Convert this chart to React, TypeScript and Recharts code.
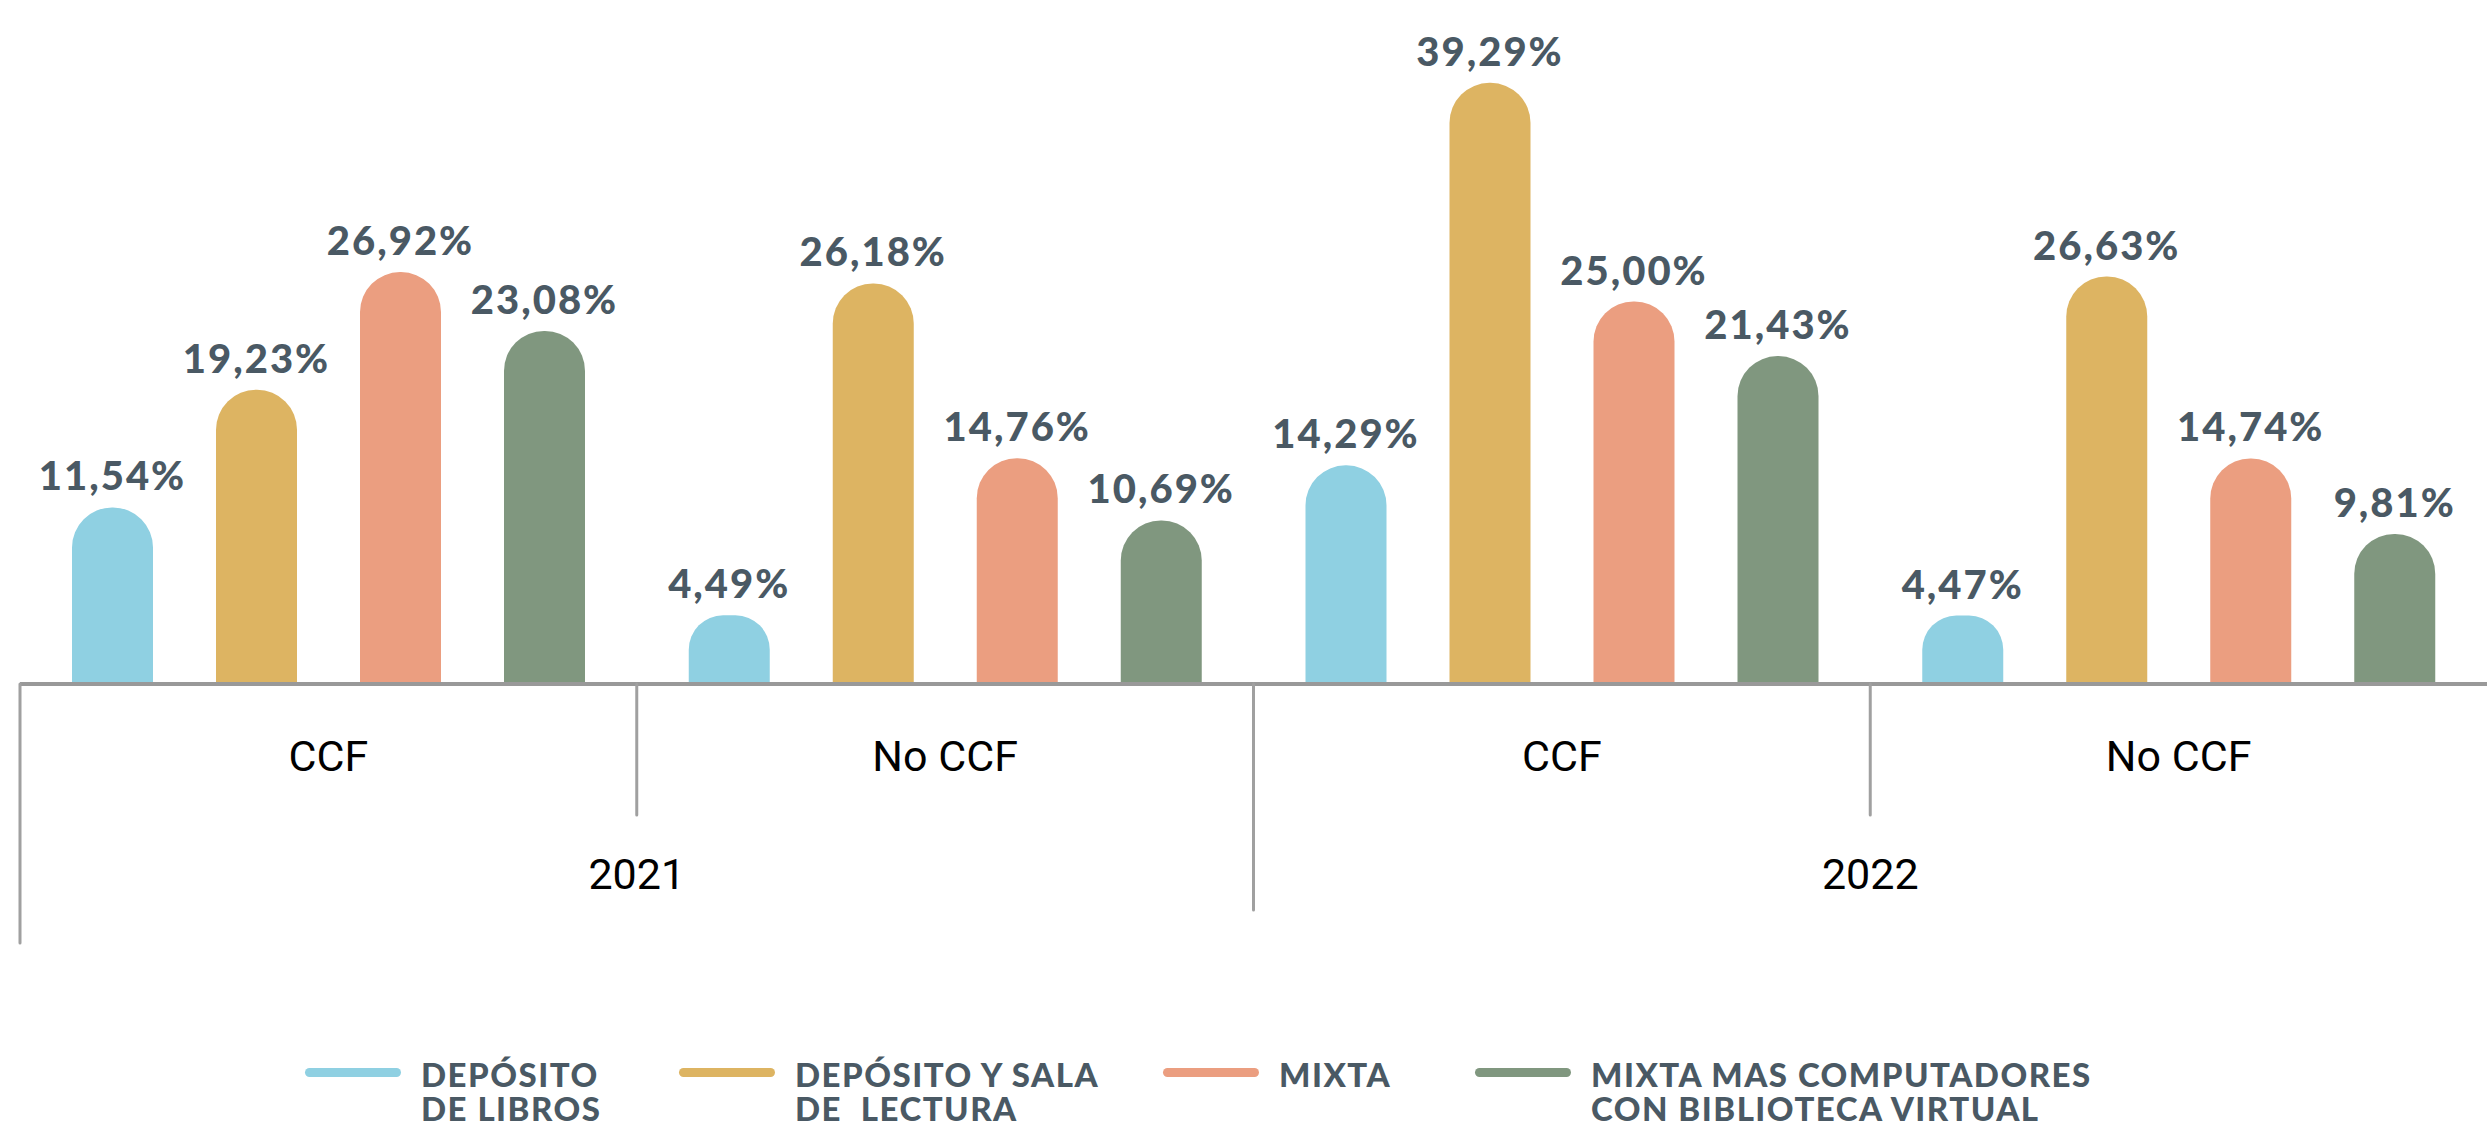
import React from 'react';
import { BarChart, Bar, XAxis, YAxis, Legend, LabelList } from 'recharts';

const grupos = ['CCF', 'No CCF', 'CCF', 'No CCF'];
const anios = ['2021', '2021', '2022', '2022'];
const depositoLibros = [11.54, 4.49, 14.29, 4.47];
const depositoSala = [19.23, 26.18, 39.29, 26.63];
const mixta = [26.92, 14.76, 25.0, 14.74];
const mixtaVirtual = [23.08, 10.69, 21.43, 9.81];

const seriesNames = [
  'DEPÓSITO\nDE LIBROS',
  'DEPÓSITO Y SALA\nDE  LECTURA',
  'MIXTA',
  'MIXTA MAS COMPUTADORES\nCON BIBLIOTECA VIRTUAL',
];
const colors = ['#8fd0e2', '#ddb462', '#eb9e80', '#80977f'];

const data = grupos.map((g, i) => ({
  grupo: g,
  anio: anios[i],
  libros: depositoLibros[i],
  sala: depositoSala[i],
  mixta: mixta[i],
  virtual: mixtaVirtual[i],
}));

const W = 2487;
const H = 1121;
const margin = { top: 72, right: 0, left: 20, bottom: 197 };
const AXIS_H = 120;
const plotW = W - margin.left - margin.right;
const lineColor = '#a0a0a0';
const labelColor = '#4a5964';

const fmt = (v: number) => v.toFixed(2).replace('.', ',') + '%';

const GroupTick = (props: any) => {
  const { x, y, payload, index } = props;
  const half = typeof payload?.offset === 'number' && payload.offset > 0 ? payload.offset : plotW / grupos.length / 2;
  return (
    <g>
      <text x={x} y={y + 72} textAnchor="middle" dominantBaseline="central"
        fontFamily="Roboto" fontSize={43} fill="#000">
        {payload.value}
      </text>
      {index % 2 === 1 && (
        <line x1={x - half} x2={x - half} y1={y} y2={y + 131} stroke={lineColor} strokeWidth={3} strokeLinecap="round" />
      )}
    </g>
  );
};

const YearTick = (props: any) => {
  const { x, y, payload, index } = props;
  const half = typeof payload?.offset === 'number' && payload.offset > 0 ? payload.offset : plotW / 4;
  return (
    <g>
      <text x={x} y={y + 70} textAnchor="middle" dominantBaseline="central"
        fontFamily="Roboto" fontSize={43} fill="#000">
        {payload.value}
      </text>
      <line x1={x - half} x2={x - half} y1={y - AXIS_H} y2={y + (index === 0 ? 139 : 106)}
        stroke={lineColor} strokeWidth={3} strokeLinecap="round" />
    </g>
  );
};

// legend item widths (icon + text block), from left to right
const legendWidths = [374, 484, 312, 620];

const renderLegend = (props: any) => {
  const { payload } = props;
  return (
    <div style={{ display: 'flex', alignItems: 'flex-start', paddingLeft: 305 }}>
      {payload.map((entry: any, i: number) => (
        <div key={`leg-${i}`} style={{ display: 'flex', alignItems: 'flex-start', width: legendWidths[i] }}>
          <div style={{ width: 96, height: 9, borderRadius: 5, background: entry.color, marginTop: 11, flexShrink: 0 }} />
          <div style={{
            marginLeft: 20, whiteSpace: 'pre', fontFamily: 'Lato', fontWeight: 900,
            fontSize: 33, lineHeight: '34px', letterSpacing: 1.5, color: labelColor,
          }}>
            {entry.value}
          </div>
        </div>
      ))}
    </div>
  );
};

const labelProps = {
  position: 'top' as const,
  offset: 17,
  formatter: fmt,
  fill: labelColor,
  fontSize: 40,
  fontWeight: 900,
  fontFamily: 'Lato',
  letterSpacing: 2,
};

export default function App() {
  const keys = ['libros', 'sala', 'mixta', 'virtual'];
  return (
    <div style={{ position: 'absolute', left: 0, top: 0, width: W, height: H, background: '#fff', overflow: 'hidden' }}>
      <BarChart width={W} height={H} data={data} margin={margin} barSize={81} barGap={63}>
        <XAxis dataKey="grupo" height={AXIS_H} interval={0} tickSize={0} tickMargin={0}
          tickLine={false} axisLine={{ stroke: '#999', strokeWidth: 4 }} tick={<GroupTick />} />
        <XAxis xAxisId="year" dataKey="anio" allowDuplicatedCategory={false} height={AXIS_H}
          interval={0} tickSize={0} tickMargin={0} tickLine={false} axisLine={false} tick={<YearTick />} />
        <YAxis hide domain={[0, 40]} />
        <Legend layout="horizontal" verticalAlign="middle" align="center" content={renderLegend}
          wrapperStyle={{ top: 1057, left: 0, width: W, height: 64 }} />
        {keys.map((k, i) => (
          <Bar key={k} dataKey={k} name={seriesNames[i]} fill={colors[i]} radius={[40, 40, 0, 0]} isAnimationActive={false}>
            <LabelList dataKey={k} {...labelProps} />
          </Bar>
        ))}
      </BarChart>
    </div>
  );
}
